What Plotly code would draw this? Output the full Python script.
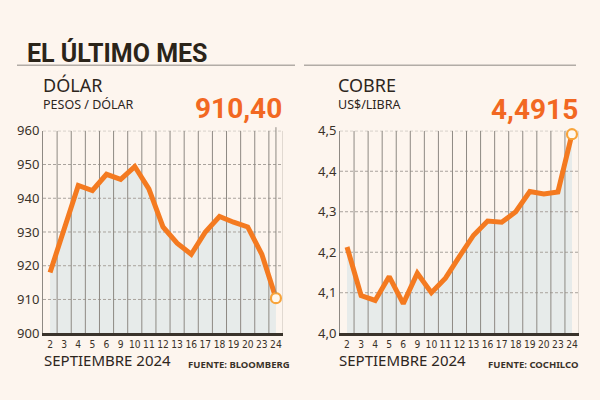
import plotly.graph_objects as go

# ---------------- data ----------------
dias = ["2", "3", "4", "5", "6", "9", "10", "11", "12", "13", "16", "17", "18", "19", "20", "23", "24"]
dolar = [918.0, 930.5, 943.8, 942.3, 947.1, 945.6, 949.4, 942.8, 931.5, 926.7, 923.4, 930.0,
         934.6, 932.9, 931.5, 923.4, 910.40]
cobre = [4.213, 4.093, 4.081, 4.140, 4.073, 4.148, 4.100, 4.136, 4.190, 4.242, 4.277, 4.274,
         4.300, 4.350, 4.344, 4.349, 4.4915]
dolar_ticks = [900, 910, 920, 930, 940, 950, 960]
cobre_ticks = [4.0, 4.1, 4.2, 4.3, 4.4, 4.5]

titulo = "EL ÚLTIMO MES"
dolar_titulo, dolar_unidad, dolar_valor = "DÓLAR", "PESOS / DÓLAR", "910,40"
cobre_titulo, cobre_unidad, cobre_valor = "COBRE", "US$/LIBRA", "4,4915"
mes = "SEPTIEMBRE 2024"
fuente_dolar, fuente_cobre = "FUENTE: BLOOMBERG", "FUENTE: COCHILCO"

# ---------------- style ----------------
W, H = 600, 400
BG = "#fdf5ee"
ORANGE = "#f47a20"
NUM_ORANGE = "#f26822"
FILL = "#e7ebea"
DARK = "#2d261d"
TICK = "#3a3229"
VGRID = "#8e8983"
HGRID = "#a9a39d"
EDGE = "#cfc7bf"
COND = "DejaVu Sans Condensed, Roboto, sans-serif"
HEAD = "Roboto, sans-serif"

fig = go.Figure()


def py(px):
    return 1 - px / H


def px_(x):
    return x / W


def panel(idx, values, ticks, fmt, xdom, leader):
    xa = "x" if idx == 1 else f"x{idx}"
    ya = "y" if idx == 1 else f"y{idx}"
    n = len(dias)
    xs = list(range(n))
    ymin, ymax = ticks[0], ticks[-1]
    # area fill
    fig.add_trace(go.Scatter(x=xs, y=values, mode="lines", fill="tozeroy", fillcolor=FILL,
                             line=dict(width=0, color=FILL), xaxis=xa, yaxis=ya, hoverinfo="skip",
                             showlegend=False))
    # horizontal dashed grid
    gx, gy = [], []
    for t in ticks[1:]:
        gx += [-0.5, n - 0.5, None]
        gy += [t, t, None]
    fig.add_trace(go.Scatter(x=gx, y=gy, mode="lines", line=dict(width=1, color=HGRID, dash="3px,2px"),
                             xaxis=xa, yaxis=ya, hoverinfo="skip", showlegend=False))
    # vertical separators between days
    vx, vy = [], []
    for i in range(n - 1):
        vx += [i + 0.5, i + 0.5, None]
        vy += [ymin, ymax, None]
    fig.add_trace(go.Scatter(x=vx, y=vy, mode="lines", line=dict(width=1, color=VGRID),
                             xaxis=xa, yaxis=ya, hoverinfo="skip", showlegend=False))
    fig.add_trace(go.Scatter(x=[n - 0.5, n - 0.5], y=[ymin, ymax], mode="lines",
                             line=dict(width=1.2, color=EDGE),
                             xaxis=xa, yaxis=ya, hoverinfo="skip", showlegend=False))
    # main line
    fig.add_trace(go.Scatter(x=xs, y=values, mode="lines", line=dict(width=5, color=ORANGE),
                             xaxis=xa, yaxis=ya, showlegend=False))
    # leader line to value label
    if leader:
        fig.add_annotation(x=xs[-1], y=values[-1], xref=xa, yref=ya, ax=xs[-1], ay=ymax + 0.025 * (ymax - ymin),
                           axref=xa, ayref=ya, text="", showarrow=True, arrowhead=0, arrowwidth=1,
                           arrowcolor=VGRID, standoff=5)
    # last point marker
    fig.add_trace(go.Scatter(x=[xs[-1]], y=[values[-1]], mode="markers",
                             marker=dict(size=10, color="#fff8ef", line=dict(width=2.2, color="#f8a43a")),
                             xaxis=xa, yaxis=ya, showlegend=False, cliponaxis=False))

    fig.layout[("xaxis" if idx == 1 else f"xaxis{idx}")] = dict(
        domain=xdom, range=[-0.5, n - 0.5], tickmode="array", tickvals=xs, ticktext=dias,
        showgrid=False, zeroline=False, showline=True, linecolor="#3a332b", linewidth=2.5,
        ticks="", layer="above traces", anchor=ya, fixedrange=True, tickangle=0,
        tickfont=dict(family=COND, size=10.2, color=TICK))
    fig.layout[("yaxis" if idx == 1 else f"yaxis{idx}")] = dict(
        domain=[py(339.5), py(127.5)], range=[ymin, ymax], tickmode="array", tickvals=ticks,
        tickformat=fmt, showgrid=False, zeroline=False, showline=True, linecolor=VGRID, linewidth=1,
        ticks="", layer="above traces", anchor=xa, fixedrange=True,
        tickfont=dict(family="Noto Sans", size=13, color=TICK))


panel(1, dolar, dolar_ticks, "d", [px_(43), px_(283)], True)
panel(2, cobre, cobre_ticks, ".1f", [px_(340), px_(579)], False)

ann = []


def text(x, y, s, size, family="Noto Sans", color=DARK, anchor="left", bold=False):
    ann.append(dict(x=px_(x), y=py(y), xref="paper", yref="paper", text=(f"<b>{s}</b>" if bold else s),
                    showarrow=False, xanchor=anchor, yanchor="middle",
                    font=dict(family=family, size=size, color=color)))


text(25, 46.5, titulo, 25, family=HEAD, bold=True, color="#2b2419")
text(41, 80, dolar_titulo, 18)
text(41, 99.5, dolar_unidad, 12.5)
text(284, 104.5, dolar_valor, 28, family=HEAD, color=NUM_ORANGE, anchor="right", bold=True)
text(42, 368, mes, 15)
text(292, 372.5, fuente_dolar, 9.5, anchor="right", bold=True, color=TICK)

text(336, 80, cobre_titulo, 18)
text(336, 99.5, cobre_unidad, 12.5)
text(580, 105.5, cobre_valor, 28, family=HEAD, color=NUM_ORANGE, anchor="right", bold=True)
text(337, 368, mes, 15)
text(580, 372.5, fuente_cobre, 9.5, anchor="right", bold=True, color=TICK)

for a in ann:
    fig.add_annotation(**a)

fig.add_shape(type="line", xref="paper", yref="paper", x0=px_(17), x1=px_(295), y0=py(59), y1=py(59),
              line=dict(color="#b2aca6", width=1.5))
fig.add_shape(type="line", xref="paper", yref="paper", x0=px_(304), x1=px_(576), y0=py(59), y1=py(59),
              line=dict(color="#b2aca6", width=1.5))

fig.update_layout(width=W, height=H, margin=dict(l=0, r=0, t=0, b=0), paper_bgcolor=BG, plot_bgcolor=BG,
                  separators=",.", showlegend=False)

fig.write_html("out.html", config=dict(displayModeBar=False))
